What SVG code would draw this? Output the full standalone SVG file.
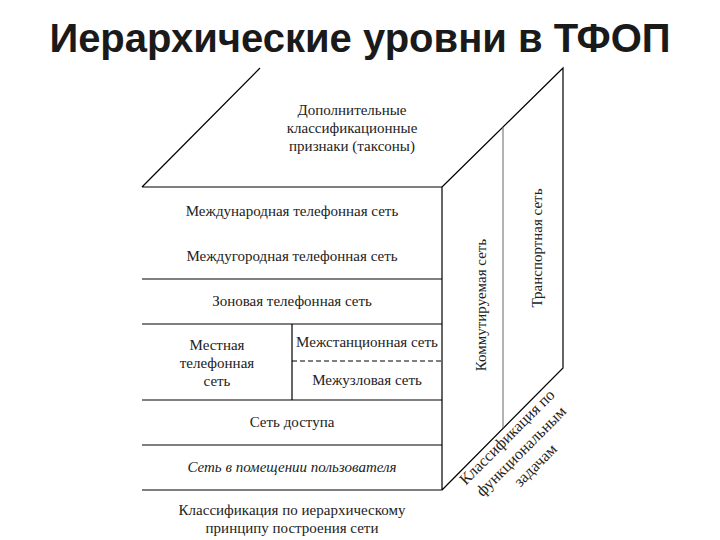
<svg xmlns="http://www.w3.org/2000/svg" width="720" height="540" viewBox="0 0 720 540">
<style>
.l{stroke:#000;stroke-width:1.2;fill:none}
.g{stroke:#666;stroke-width:1;fill:none}
.t{font-family:"Liberation Serif","DejaVu Serif","Times New Roman",serif;font-size:15px;fill:#222;text-anchor:middle}
</style>
<rect width="720" height="540" fill="#fff"/>
<text x="360" y="52" font-family="Liberation Sans,Arial,sans-serif" font-size="40" font-weight="bold" fill="#1a1a1a" text-anchor="middle">Иерархические уровни в ТФОП</text>
<g id="connectors">
<path class="l" d="M142,187 L260,68 M142,187 H442 V490 H142 M442,187 L563,68 V368 L442,490"/>
<path class="g" d="M503,127 V428"/>
<path class="l" d="M142,279 H442 M142,324 H442 M142,400 H442 M142,445 H442 M292,324 V400"/>
<path class="l" d="M292,361 H442" stroke-dasharray="5,3"/>
</g>
<g id="top"><text class="t" x="352" y="115">Дополнительные</text><text class="t" x="352" y="133">классификационные</text><text class="t" x="352" y="151">признаки (таксоны)</text></g>
<g id="n1"><text class="t" x="292" y="216">Международная телефонная сеть</text></g>
<g id="n2"><text class="t" x="292" y="261">Междугородная телефонная сеть</text></g>
<g id="n3"><text class="t" x="292" y="306">Зоновая телефонная сеть</text></g>
<g id="n4"><text class="t" x="217" y="350">Местная</text><text class="t" x="217" y="368">телефонная</text><text class="t" x="217" y="386">сеть</text></g>
<g id="n5"><text class="t" x="367" y="347">Межстанционная сеть</text></g>
<g id="n6"><text class="t" x="367" y="385">Межузловая сеть</text></g>
<g id="n7"><text class="t" x="292" y="427">Сеть доступа</text></g>
<g id="n8"><text class="t" x="292" y="472" font-style="italic">Сеть в помещении пользователя</text></g>
<g id="bottom"><text class="t" x="292" y="515">Классификация по иерархическому</text><text class="t" x="292" y="533">принципу построения сети</text></g>
<g id="comm"><text class="t" transform="translate(486,305) rotate(-90)">Коммутируемая сеть</text></g>
<g id="trans"><text class="t" transform="translate(542,248) rotate(-90)">Транспортная сеть</text></g>
<g id="func" transform="translate(522,452) rotate(-45)" style="font-size:16px"><text class="t" x="0" y="-16" style="font-size:16px">Классификация по</text><text class="t" x="0" y="4" style="font-size:16px">функциональным</text><text class="t" x="0" y="24" style="font-size:16px">задачам</text></g>
</svg>
